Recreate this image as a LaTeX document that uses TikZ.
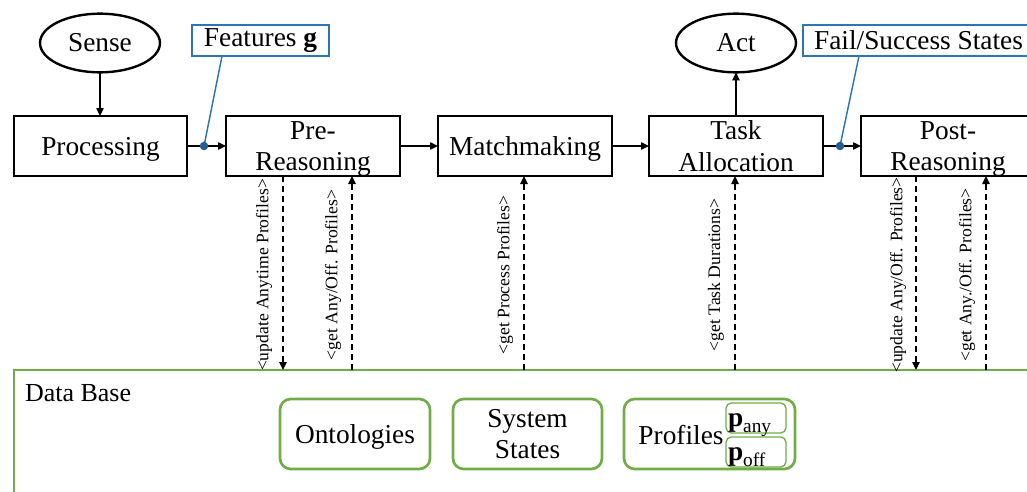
\documentclass[tikz,border=0pt]{standalone}
\usepackage{fontspec}
\setmainfont{Liberation Serif}
\usetikzlibrary{arrows.meta,fit,shapes.geometric}
\definecolor{dbgreen}{HTML}{70AD47}
\definecolor{callblue}{HTML}{2E75B6}
\begin{document}
\begin{tikzpicture}[x=0.75pt,y=-0.75pt,
  every node/.style={inner sep=0pt, outer sep=0pt},
  big/.style={font=\fontsize{20.5}{23.5}\selectfont},
  proc/.style={draw, line width=2pt, big, align=center, text depth=0pt, minimum width=130.5pt, minimum height=45pt},
  ell/.style={draw, ellipse, line width=1.8pt, big, minimum width=90pt, minimum height=44pt},
  flow/.style={line width=1pt, -{Triangle[length=6pt,width=5.5pt]}},
  query/.style={line width=1.1pt, dash pattern=on 4.5pt off 3pt, -{Triangle[length=6pt,width=5.5pt]}},
  qlabel/.style={rotate=90, font=\fontsize{13.2}{15}\selectfont},
  callout/.style={draw=callblue, line width=1.1pt, big, minimum height=23.25pt},
  callline/.style={draw=callblue, line width=1.1pt},
  calldot/.style={fill=callblue!80!black},
  dbframe/.style={draw=dbgreen, line width=2.2pt},
  store/.style={draw=dbgreen, line width=2pt, rounded corners=8pt, big, align=center, text depth=0pt, minimum height=52.5pt},
  substore/.style={draw=dbgreen, line width=1pt, rounded corners=4pt},
  subtext/.style={font=\fontsize{20.5}{23.5}\selectfont}
]
\clip (0,0) rectangle (1027,492);

% top ellipses
\node[ell] (sense) at (100,43) {Sense};
\node[ell] (act) at (736,43) {Act};

% process boxes
\node[proc, minimum width=129.75pt] (proc) at (100.5,146) {Processing};
\node[proc] (pre) at (313,146) {Pre-\\Reasoning};
\node[proc] (match) at (525,146) {Matchmaking};
\node[proc] (task) at (736,146) {Task\\Allocation};
\node[proc] (post) at (948,146) {Post-\\Reasoning};

% flow arrows
\draw[flow] (sense.south) -- (sense.south |- proc.north);
\draw[flow] (proc) -- (pre);
\draw[flow] (pre) -- (match);
\draw[flow] (match) -- (task);
\draw[flow] (task) -- (post);
\draw[flow] (task.north) -- (act.south);

% callouts
\node[callout, minimum width=102.75pt] (feat) at (260.5,40.5) {Features {\bfseries g}};
\coordinate (featfoot) at (222,56);
\coordinate (featdot) at (204,146);
\draw[callline] (featfoot) -- (featdot);
\fill[calldot] (featdot) circle (3.2pt);

\node[callout, minimum width=173.25pt] (fail) at (918.5,40.5) {Fail/Success States};
\coordinate (failfoot) at (859,56);
\coordinate (faildot) at (840,146);
\draw[callline] (failfoot) -- (faildot);
\fill[calldot] (faildot) circle (3.2pt);

% data base
\node[dbframe, fit={(14,370)(1045,510)}] (db) {};
\node[anchor=base west, font=\fontsize{19.5}{22}\selectfont] (dblabel) at (25,401) {Data Base};

\node[store, minimum width=112.5pt] (onto) at (355,434) {Ontologies};
\node[store, minimum width=111.75pt] (sys) at (527.5,434) {System\\States};
\node[store, minimum width=128.25pt] (prof) at (709.5,434) {};
\node[big] (proftext) at (681,435) {Profiles};
\node[substore, fit={(726,403)(786,433)}] (pany) {};
\node[subtext, anchor=base west] (panytext) at (728,426) {{\bfseries p}\raisebox{-0.22em}{\fontsize{14.5}{14.5}\selectfont any}};
\node[substore, fit={(726,437)(786,467)}] (poff) {};
\node[subtext, anchor=base west] (pofftext) at (728,460) {{\bfseries p}\raisebox{-0.22em}{\fontsize{14.5}{14.5}\selectfont off}};

% query connectors
\coordinate (q1) at (283,370);
\coordinate (q2) at (352,370);
\coordinate (q3) at (524,370);
\coordinate (q4) at (735,370);
\coordinate (q5) at (916,370);
\coordinate (q6) at (986,370);
\draw[query] (pre.south -| q1) -- (q1);
\draw[query] (q2) -- (pre.south -| q2);
\draw[query] (q3) -- (match.south -| q3);
\draw[query] (q4) -- (task.south -| q4);
\draw[query] (post.south -| q5) -- (q5);
\draw[query] (q6) -- (post.south -| q6);

\node[qlabel] (l1) at (264,275) {<update Anytime Profiles>};
\node[qlabel] (l2) at (333,275) {<get Any/Off. Profiles>};
\node[qlabel] (l3) at (505,275) {<get Process Profiles>};
\node[qlabel] (l4) at (716,275) {<get Task Durations>};
\node[qlabel] (l5) at (898,275) {<update Any/Off. Profiles>};
\node[qlabel] (l6) at (967,275) {<get Any./Off. Profiles>};
\end{tikzpicture}
\end{document}
